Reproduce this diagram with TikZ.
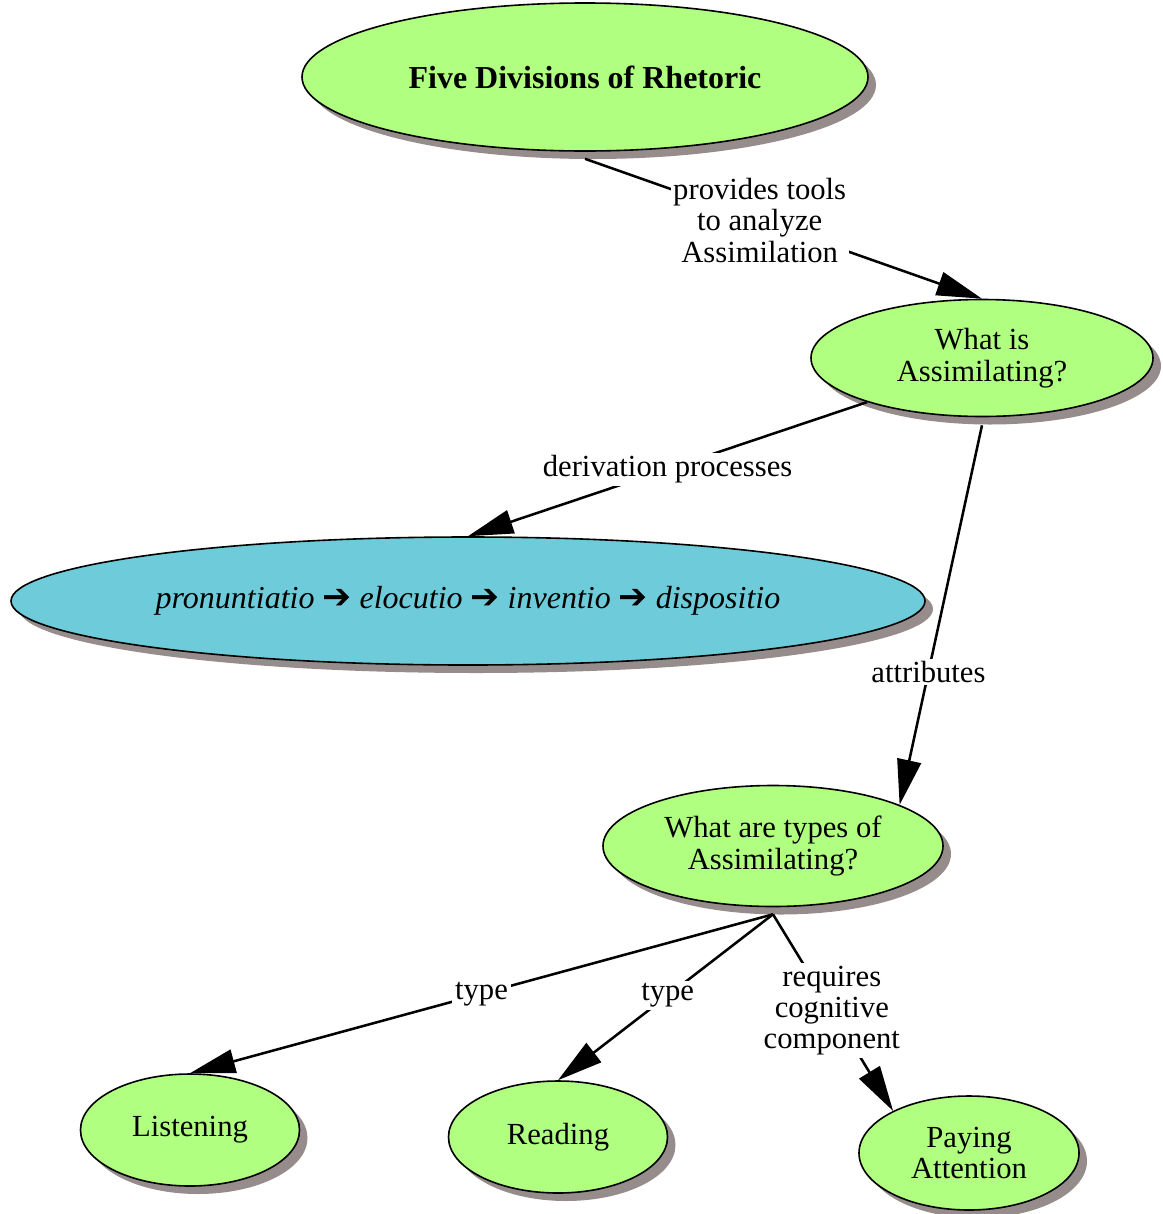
\documentclass[tikz,border=0pt]{standalone}
\usepackage{fontspec}
\setmainfont{Liberation Serif}
\newfontfamily\symfont{DejaVu Sans}
\usetikzlibrary{shapes.geometric,shadows,arrows.meta,calc}
\definecolor{nodegreen}{RGB}{176,255,128}
\definecolor{nodeblue}{RGB}{110,204,218}
\definecolor{shadowgray}{RGB}{150,140,140}
\newcommand{\rarr}{{\symfont\fontsize{26}{26}\selectfont ➔}}
\begin{document}
\begin{tikzpicture}[x=0.75pt,y=-0.75pt,
  concept/.style={ellipse,draw=black,line width=1.2pt,fill=nodegreen,inner sep=0pt,align=center,
    font=\fontsize{23}{23.5}\selectfont,
    drop shadow={shadow xshift=6pt,shadow yshift=-6pt,fill=shadowgray,opacity=1}},
  link/.style={line width=1.9pt,-{Triangle[length=34pt,width=18pt]}},
  linklabel/.style={fill=white,inner sep=2pt,align=center,font=\fontsize{23}{23.5}\selectfont}]
\useasboundingbox (0,0) rectangle (1163,1214);
\node[concept,minimum width=424.5pt,minimum height=111pt,font=\fontsize{24}{24}\selectfont] (five) at (585,77) {\bfseries Five Divisions of Rhetoric};
\node[concept,minimum width=256.5pt,minimum height=87.75pt] (whatis) at (982,358) {What is\\Assimilating?};
\node[concept,fill=nodeblue,minimum width=685.5pt,minimum height=96pt,font=\fontsize{24}{24}\selectfont] (pron) at (468,601)
  {\itshape pronuntiatio \rarr{} elocutio \rarr{} inventio \rarr{} dispositio};
\node[concept,minimum width=255pt,minimum height=90.75pt] (types) at (773,846) {What are types of\\Assimilating?};
\node[concept,minimum width=164.25pt,minimum height=84pt] (listening) at (190,1130) {Listening};
\node[concept,minimum width=164.25pt,minimum height=84pt] (reading) at (558,1137) {Reading};
\node[concept,minimum width=165pt,minimum height=85.5pt] (paying) at (969,1153) {Paying\\Attention};

\draw[link] ($(five.south)+(0,7)$) -- node[linklabel,pos=0.44] {provides tools\\to analyze\\Assimilation} (whatis.north);
\draw[link] (whatis.201) -- node[linklabel,pos=0.5] {derivation processes} (pron.north);
\draw[link] ($(whatis.south)+(0,8)$) -- node[linklabel,pos=0.65] {attributes} (types.18);
\draw[link] ($(types.south)+(0,7)$) -- node[linklabel,pos=0.5] {type} (listening.north);
\draw[link] ($(types.south)+(0,7)$) -- node[linklabel,pos=0.49] {type} (reading.north);
\draw[link] ($(types.south)+(0,7)$) -- node[linklabel,pos=0.49] {requires\\cognitive\\component} (paying.151);
\end{tikzpicture}
\end{document}
